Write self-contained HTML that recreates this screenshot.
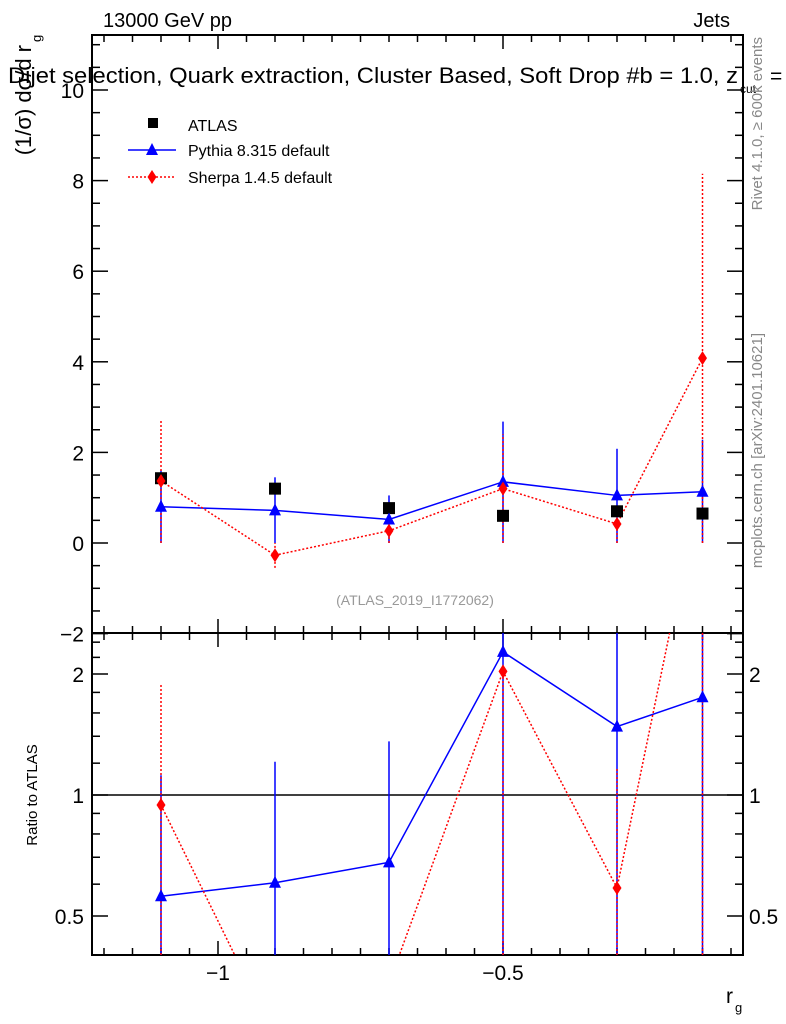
<!DOCTYPE html>
<html><head><meta charset="utf-8"><style>
html,body{margin:0;padding:0;background:#fff;overflow:hidden;width:786px;height:1024px;}
svg{display:block;font-family:"Liberation Sans",sans-serif;}
</style></head><body>
<svg id="chart" width="786" height="1024" viewBox="0 0 786 1024">
<g id="g"></g>
</svg>
<script>
const xs = [-1.1, -0.9, -0.7, -0.5, -0.3, -0.15];
const atlas = [1.43, 1.2, 0.77, 0.6, 0.7, 0.65];
const pythia = [0.8, 0.72, 0.52, 1.35, 1.05, 1.13];
const pythiaUp = [1.6, 1.45, 1.05, 2.68, 2.08, 2.28];
const pythiaDn = [0, 0, 0, 0, 0, 0];
const sherpa = [1.37, -0.27, 0.27, 1.2, 0.42, 4.08];
const sherpaUp = [2.73, 0, 0.27, 2.4, 0.42, 8.15];
const sherpaDn = [0, -0.55, 0, 0, 0, 0];
const pyRatio = [0.56, 0.605, 0.68, 2.27, 1.48, 1.75];
const pyRatioUp = [1.12, 1.21, 1.36, 10, 10, 10];
const shRatio = [0.944, 0.25, 0.34, 2.03, 0.587, 6.3];
const shRatioUp = [1.9, -1, 0.34, 2.03, 1.17, 10];
const yTicks = [-2, 0, 2, 4, 6, 8, 10];
const rTicks = [0.5, 1, 2];
const xTicks = [-1, -0.5];

const NS = "http://www.w3.org/2000/svg";
const g = document.getElementById('g');
const L = 92, R = 743, T1 = 35, B1 = 633, T2 = 633, B2 = 955;
const X = v => 503 + (v + 0.5) * 570;
const Y = v => 543 - v * 45.3;
const YR = v => 795 - Math.log2(v) * 121;
const clipR = v => v <= 0 ? B2 + 50 : Math.max(T2 - 50, Math.min(B2 + 80, YR(v)));
function el(tag, attrs, parent) {
  const e = document.createElementNS(NS, tag);
  for (const k in attrs) e.setAttribute(k, attrs[k]);
  (parent || g).appendChild(e); return e;
}
function txt(s, x, y, size, anchor, fill, extra) {
  const t = el('text', Object.assign({x: x, y: y, 'font-size': size, 'text-anchor': anchor || 'start', fill: fill || '#000'}, extra || {}));
  t.textContent = s; return t;
}
const defs = el('defs', {});
const c1 = el('clipPath', {id: 'c1'}, defs); el('rect', {x: L, y: T1, width: R - L, height: B1 - T1}, c1);
const c2 = el('clipPath', {id: 'c2'}, defs); el('rect', {x: L, y: T2, width: R - L, height: B2 - T2}, c2);

const f1 = el('rect', {x: L, y: T1, width: R - L, height: B1 - T1, fill: 'none', stroke: '#000', 'stroke-width': 2});
 
const f2 = el('rect', {x: L, y: T2, width: R - L, height: B2 - T2, fill: 'none', stroke: '#000', 'stroke-width': 2});
 

for (let v = -1.2; v <= -0.08; v += 0.05) {
  const x = X(v); const major = Math.abs(v * 10 - Math.round(v * 10)) < 0.01 && Math.abs(Math.round(v*10) % 5) === 0;
  const len = major ? 14 : 7;
  [[T1, 1], [B1, -1], [T2, 1], [B2, -1]].forEach(([y, d]) => el('line', {x1: x, x2: x, y1: y, y2: y + d * len, stroke: '#000', 'stroke-width': 1.5}));
}
xTicks.forEach(v => {
  const t = txt(v === -1 ? '−1' : '−0.5', X(v), 980, 21, 'middle');
   
});
for (let v = -2; v <= 11; v += 0.5) {
  const y = Y(v); if (y < T1) continue;
  const len = (v % 2 === 0) ? 16 : 8;
  el('line', {x1: L, x2: L + len, y1: y, y2: y, stroke: '#000', 'stroke-width': 1.5});
  el('line', {x1: R, x2: R - len, y1: y, y2: y, stroke: '#000', 'stroke-width': 1.5});
}
yTicks.forEach(v => {
  const t = txt(v < 0 ? '−' + (-v) : String(v), L - 8, Y(v) + 8, 21, 'end');
   
});
[0.4,0.5,0.6,0.7,0.8,0.9,1,1.2,1.4,1.6,1.8,2,2.2,2.4].forEach(v => {
  const y = YR(v); const len = rTicks.includes(v) ? 16 : 8;
  el('line', {x1: L, x2: L + len, y1: y, y2: y, stroke: '#000', 'stroke-width': 1.5});
  el('line', {x1: R, x2: R - len, y1: y, y2: y, stroke: '#000', 'stroke-width': 1.5});
});
rTicks.forEach(v => {
  const t = txt(String(v), L - 8, YR(v) + 8, 21, 'end');
   
  const t2 = txt(String(v), R + 6, YR(v) + 8, 21, 'start');
   
});
el('line', {x1: L, x2: R, y1: YR(1), y2: YR(1), stroke: '#000', 'stroke-width': 1.5});

const m = el('g', {'clip-path': 'url(#c1)'});
function tri(x, y, p, col) { return el('polygon', {points: `${x},${y-7} ${x-6},${y+5} ${x+6},${y+5}`, fill: col}, p); }
function dia(x, y, p, col) { return el('polygon', {points: `${x},${y-7} ${x-4.5},${y} ${x},${y+7} ${x+4.5},${y}`, fill: col}, p); }
xs.forEach((v, i) => {
  const e1 = el('line', {x1: X(v), x2: X(v), y1: Y(pythiaDn[i]), y2: Y(pythiaUp[i]), stroke: '#00f', 'stroke-width': 1.5}, m);
   
  const e2 = el('line', {x1: X(v), x2: X(v), y1: Y(sherpaDn[i]), y2: Y(sherpaUp[i]), stroke: '#f00', 'stroke-width': 1.5, 'stroke-dasharray': '2,2'}, m);
   
});
const pl = el('polyline', {points: xs.map((v, i) => X(v) + ',' + Y(pythia[i])).join(' '), fill: 'none', stroke: '#00f', 'stroke-width': 1.5}, m);
 
const sl = el('polyline', {points: xs.map((v, i) => X(v) + ',' + Y(sherpa[i])).join(' '), fill: 'none', stroke: '#f00', 'stroke-width': 1.5, 'stroke-dasharray': '2,2'}, m);
 
xs.forEach((v, i) => {
  const a = el('rect', {x: X(v) - 6, y: Y(atlas[i]) - 6, width: 12, height: 12, fill: '#000'}, m);
   
  const p = tri(X(v), Y(pythia[i]), m, '#00f');
   
  const s = dia(X(v), Y(sherpa[i]), m, '#f00');
   
});

const r = el('g', {'clip-path': 'url(#c2)'});
xs.forEach((v, i) => {
  const e1 = el('line', {x1: X(v), x2: X(v), y1: B2, y2: clipR(pyRatioUp[i]), stroke: '#00f', 'stroke-width': 1.5}, r);
   
  if (shRatioUp[i] > 0) {
    const e2 = el('line', {x1: X(v), x2: X(v), y1: B2, y2: clipR(shRatioUp[i]), stroke: '#f00', 'stroke-width': 1.5, 'stroke-dasharray': '2,2'}, r);
     
  }
});
const rp = el('polyline', {points: xs.map((v, i) => X(v) + ',' + clipR(pyRatio[i])).join(' '), fill: 'none', stroke: '#00f', 'stroke-width': 1.5}, r);
 
const rs = el('polyline', {points: xs.map((v, i) => X(v) + ',' + YR(shRatio[i])).join(' '), fill: 'none', stroke: '#f00', 'stroke-width': 1.5, 'stroke-dasharray': '2,2'}, r);
 
xs.forEach((v, i) => {
  const p = tri(X(v), clipR(pyRatio[i]), r, '#00f');
   
  const s = dia(X(v), YR(shRatio[i]), r, '#f00');
   
});

const lg = el('g', {});
 
el('rect', {x: 148, y: 118, width: 10, height: 10, fill: '#000'}, lg);
txt('ATLAS', 188, 131, 16, 'start', '#000');
el('line', {x1: 128, x2: 176, y1: 150, y2: 150, stroke: '#00f', 'stroke-width': 1.5}, lg);
tri(152, 150, lg, '#00f');
txt('Pythia 8.315 default', 188, 156, 16, 'start', '#000');
el('line', {x1: 128, x2: 176, y1: 177, y2: 177, stroke: '#f00', 'stroke-width': 1.5, 'stroke-dasharray': '2,2'}, lg);
dia(152, 177, lg, '#f00');
txt('Sherpa 1.4.5 default', 188, 183, 16, 'start', '#000');

txt('13000 GeV pp', 103, 27, 20);
txt('Jets', 730, 27, 20, 'end');
const title = txt('Dijet selection, Quark extraction, Cluster Based, Soft Drop #b = 1.0, z', 8, 83, 22, 'start', '#000', {textLength: 730, lengthAdjust: 'spacingAndGlyphs'});

txt('cut', 740, 93, 12);
txt('=', 770, 83, 21);
txt('(ATLAS_2019_I1772062)', 415, 605, 14, 'middle', '#999');
const yl = txt('(1/σ) dσ/d r', 0, 0, 22, 'end', '#000', {transform: 'translate(31,45) rotate(-90)'});

txt('g', 0, 0, 13, 'start', '#000', {transform: 'translate(41,42) rotate(-90)'});
const rl = txt('Ratio to ATLAS', 0, 0, 15, 'middle', '#000', {transform: 'translate(37,795) rotate(-90)'});

txt('r', 726, 1003, 21);
txt('g', 735, 1012, 13);
const side1 = txt('Rivet 4.1.0, ≥ 600k events', 0, 0, 15, 'end', '#888', {transform: 'translate(762,37) rotate(-90)'});

const side2 = txt('mcplots.cern.ch [arXiv:2401.10621]', 0, 0, 15, 'end', '#888', {transform: 'translate(762,333) rotate(-90)'});

</script>
</body></html>
